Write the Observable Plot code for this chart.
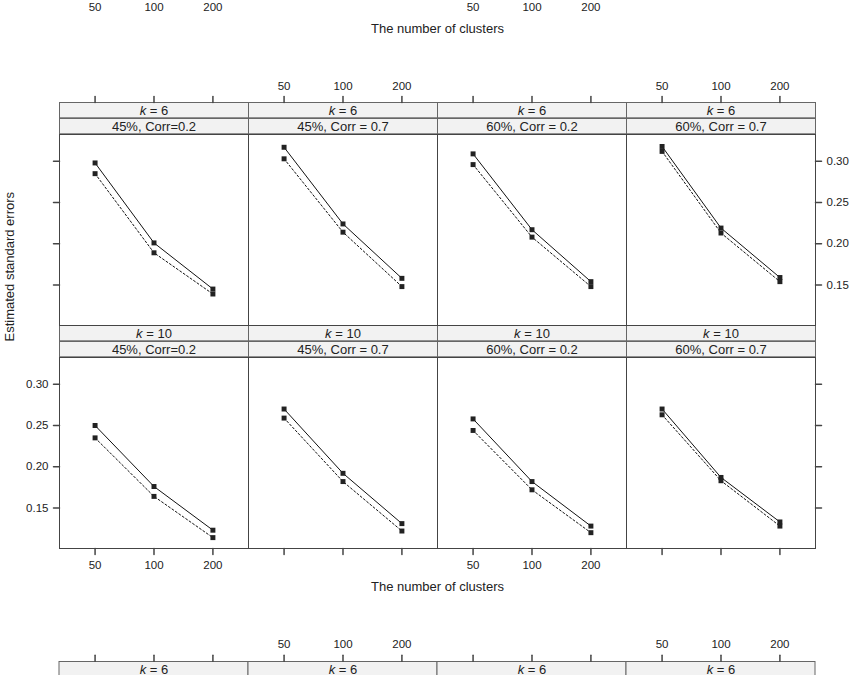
<!DOCTYPE html>
<html><head><meta charset="utf-8">
<script src="https://cdn.jsdelivr.net/npm/d3@7"></script>
<script src="https://cdn.jsdelivr.net/npm/@observablehq/plot@0.6"></script>
<style>
body{margin:0;background:#fff}
#chart{width:850px;height:675px;overflow:hidden;position:relative}
#chart svg{display:block}
</style>
</head><body><div id="chart"></div>
<script>
// ---- data ----
const clusters = [50, 100, 200];
const kLabels = ["k = 6", "k = 10"];
const conditions = ["45%, Corr=0.2", "45%, Corr = 0.7", "60%, Corr = 0.2", "60%, Corr = 0.7"];
const solidK6  = [[0.298, 0.201, 0.145], [0.317, 0.224, 0.158], [0.309, 0.217, 0.154], [0.318, 0.219, 0.159]];
const dashedK6 = [[0.285, 0.189, 0.139], [0.303, 0.214, 0.148], [0.296, 0.208, 0.148], [0.312, 0.213, 0.154]];
const solidK10  = [[0.250, 0.176, 0.123], [0.270, 0.192, 0.131], [0.258, 0.182, 0.128], [0.270, 0.187, 0.133]];
const dashedK10 = [[0.235, 0.164, 0.114], [0.259, 0.182, 0.122], [0.244, 0.172, 0.120], [0.263, 0.183, 0.128]];
const xTicks = [50, 100, 200];
const yTicks = [0.15, 0.20, 0.25, 0.30];
const yTickLabels = ["0.15", "0.20", "0.25", "0.30"];
const xTitle = "The number of clusters";
const yTitle = "Estimated standard errors";

// ---- tables built from the arrays ----
const seriesDefs = [
  {k: kLabels[0], type: "solid", values: solidK6},
  {k: kLabels[0], type: "dashed", values: dashedK6},
  {k: kLabels[1], type: "solid", values: solidK10},
  {k: kLabels[1], type: "dashed", values: dashedK10}
];
const rows = [];
for (const s of seriesDefs)
  conditions.forEach((cond, ci) => clusters.forEach((n, i) =>
    rows.push({k: s.k, cond, type: s.type, clusters: n, se: s.values[ci][i]})));

const strips = [];
for (const k of kLabels) for (const cond of conditions) strips.push({k, cond});

const xTickRows = (k, condIdx) => {
  const out = [];
  condIdx.forEach(ci => xTicks.forEach(x => out.push({k, cond: conditions[ci], x, label: String(x)})));
  return out;
};
const yTickRows = (ks, ci) => {
  const out = [];
  ks.forEach(k => yTicks.forEach((y, i) => out.push({k, cond: conditions[ci], y, label: yTickLabels[i]})));
  return out;
};
const all = [0, 1, 2, 3];
const topTicks = xTickRows(kLabels[0], all);
const topLabels = xTickRows(kLabels[0], [1, 3]);
const bottomTicks = xTickRows(kLabels[1], all);
const bottomLabels = xTickRows(kLabels[1], [0, 2]);
const prevLabels = xTickRows(kLabels[0], [0, 2]);
const nextLabels = xTickRows(kLabels[1], [1, 3]);
const nextTicks = xTickRows(kLabels[1], all);
const nextStrips = conditions.map(cond => ({k: kLabels[1], cond, label: "k = 6"}));
const leftTicks = yTickRows(kLabels, 0);
const leftLabels = yTickRows([kLabels[1]], 0);
const rightTicks = yTickRows(kLabels, 3);
const rightLabels = yTickRows([kLabels[0]], 3);

// ---- layout ----
const W = 850, H = 675;
const mL = 57.5, mR = 34, mT = 133.3, mB = 126.3;
const panelH = 191.7, stripH = 16, gap = 2 * stripH;
const rowRange = H - mT - mB;
const padInner = 2 * gap / (rowRange + gap);
const font = "'Liberation Sans', Arial, Helvetica, sans-serif";
const ink = "#222";
const tickShape = {draw(context, l) { context.moveTo(0, 0); context.lineTo(0, -l); }};
const F = {fx: "cond", fy: "k"};
const T = {lineAnchor: "middle", fill: ink};

const chart = Plot.plot({
  width: W, height: H,
  marginLeft: mL, marginRight: mR, marginTop: mT, marginBottom: mB,
  facet: {marginTop: 0, marginRight: 0, marginBottom: 0, marginLeft: 0},
  style: {fontFamily: font, fontSize: "11.5px", color: ink, background: "#fff"},
  x: {type: "log", domain: [32.9, 304], axis: null},
  y: {domain: [0.1008, 0.3325], axis: null},
  fx: {domain: conditions, padding: 0, axis: null},
  fy: {domain: kLabels, paddingInner: padInner, paddingOuter: 0, axis: null},
  marks: [
    // strips
    Plot.frame({fill: "#f2f2f2", stroke: "#666", insetTop: -gap, insetBottom: panelH + stripH}),
    Plot.frame({fill: "#f2f2f2", stroke: "#666", insetTop: -stripH, insetBottom: panelH}),
    Plot.text(strips, {...F, ...T, text: "k", frameAnchor: "top", dy: -gap + stripH / 2, fontSize: 13}),
    Plot.text(strips, {...F, ...T, text: "cond", frameAnchor: "top", dy: -stripH / 2, fontSize: 13}),
    // next figure's strips (cut off)
    Plot.rect(nextStrips, {...F, fill: "#f2f2f2", stroke: "#666", insetTop: panelH + 112.8, insetBottom: -131}),
    Plot.text(nextStrips, {...F, ...T, text: "label", frameAnchor: "bottom", dy: 121.5, fontSize: 13}),
    // panel frame
    Plot.frame({stroke: "#444", strokeWidth: 1}),
    // data
    Plot.line(rows.filter(d => d.type === "dashed"), {...F, x: "clusters", y: "se", stroke: "#111", strokeWidth: 1, strokeDasharray: "2,2.2"}),
    Plot.line(rows.filter(d => d.type === "solid"), {...F, x: "clusters", y: "se", stroke: "#111", strokeWidth: 1}),
    Plot.dot(rows, {...F, x: "clusters", y: "se", symbol: "square", r: 2.8, fill: "#222", stroke: "none"}),
    // x axes (lattice alternating)
    Plot.vector(topTicks, {...F, x: "x", frameAnchor: "top", dy: -gap, length: 6, rotate: 0, anchor: "start", shape: tickShape, stroke: "#444"}),
    Plot.text(topLabels, {...F, ...T, x: "x", text: "label", frameAnchor: "top", dy: -48.3}),
    Plot.vector(bottomTicks, {...F, x: "x", frameAnchor: "bottom", length: 6, rotate: 180, anchor: "start", shape: tickShape, stroke: "#444"}),
    Plot.text(bottomLabels, {...F, ...T, x: "x", text: "label", frameAnchor: "bottom", dy: 17.3}),
    Plot.text(prevLabels, {...F, ...T, x: "x", text: "label", frameAnchor: "top", dy: -127.3}),
    Plot.vector(nextTicks, {...F, x: "x", frameAnchor: "bottom", dy: 112.8, length: 6, rotate: 0, anchor: "start", shape: tickShape, stroke: "#444"}),
    Plot.text(nextLabels, {...F, ...T, x: "x", text: "label", frameAnchor: "bottom", dy: 96.3}),
    // y axes
    Plot.vector(leftTicks, {...F, y: "y", frameAnchor: "left", length: 6, rotate: -90, anchor: "start", shape: tickShape, stroke: "#444"}),
    Plot.text(leftLabels, {...F, ...T, y: "y", text: "label", frameAnchor: "left", dx: -11, textAnchor: "end"}),
    Plot.vector(rightTicks, {...F, y: "y", frameAnchor: "right", length: 6, rotate: 90, anchor: "start", shape: tickShape, stroke: "#444"}),
    Plot.text(rightLabels, {...F, ...T, y: "y", text: "label", frameAnchor: "right", dx: 11, textAnchor: "start"}),
    // titles
    Plot.text([xTitle], {...T, text: d => d, frameAnchor: "top", dy: -105.3, fontSize: 13, facet: "super"}),
    Plot.text([xTitle], {...T, text: d => d, frameAnchor: "bottom", dy: 38.6, fontSize: 13, facet: "super"}),
    Plot.text([yTitle], {...T, text: d => d, frameAnchor: "left", dx: -49.5, rotate: -90, fontSize: 13, facet: "super"})
  ]
});
document.getElementById("chart").appendChild(chart);

// italic "k" in the strip labels, as in the original
const ns = "http://www.w3.org/2000/svg";
for (const t of chart.querySelectorAll("text")) {
  const s = t.textContent;
  if (/^k = \d+$/.test(s)) {
    t.textContent = "";
    const it = document.createElementNS(ns, "tspan");
    it.setAttribute("font-style", "italic");
    it.textContent = "k";
    t.appendChild(it);
    t.appendChild(document.createTextNode(s.slice(1)));
  }
}
</script>
</body></html>
